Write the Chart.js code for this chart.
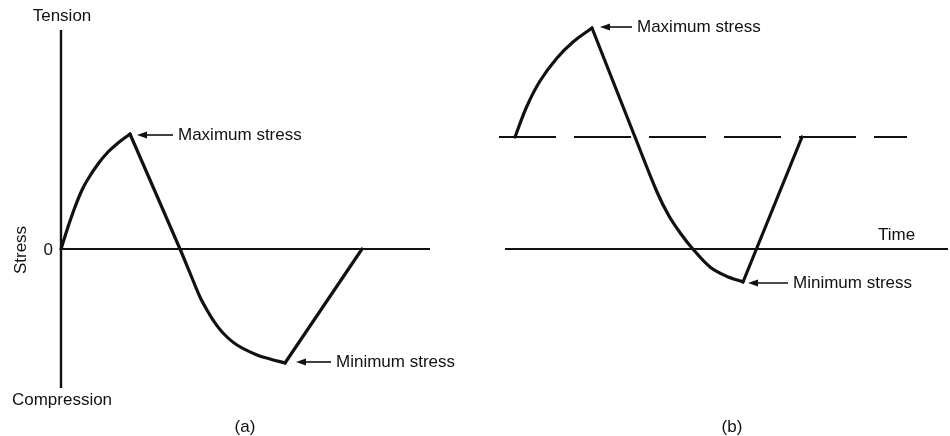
<!DOCTYPE html>
<html>
<head>
<meta charset="utf-8">
<title>Fatigue stress cycles</title>
<script src="https://cdn.jsdelivr.net/npm/chart.js@4.4.1/dist/chart.umd.min.js"></script>
<style>
  html, body { margin: 0; padding: 0; background: #ffffff; }
  #wrap { position: relative; width: 950px; height: 436px; background: #ffffff; }
  #wrap canvas { position: absolute; left: 0; top: 0; }
</style>
</head>
<body>
<div id="wrap">
  <canvas id="cycleA" width="950" height="436"></canvas>
  <canvas id="cycleB" width="950" height="436"></canvas>
</div>
<script>
// (a) Fully reversed cycle: time / stress samples
const cycleA_riseTime   = [0, 0.7, 1.4, 2.1, 2.7, 3.7, 4.7, 5.7, 6.9];
const cycleA_riseStress = [0, 2.2, 4.2, 5.9, 7.0, 8.5, 9.7, 10.6, 11.5];
const cycleA_fallTime   = [6.9, 11.9, 12.9, 13.9, 14.6, 15.2, 16.2, 17.6, 19.6, 20.9, 22.4];
const cycleA_fallStress = [11.5, 0, -2.4, -4.8, -6.1, -7.1, -8.4, -9.6, -10.6, -11.0, -11.4];
const cycleA_backTime   = [22.4, 30.1];
const cycleA_backStress = [-11.4, 0];
const cycleA_stressAxis = [21.9, -13.9];   // Tension ... Compression
const cycleA_timeAxis   = [0, 36.9];

// (b) Fluctuating cycle about a positive mean stress
const cycleB_riseTime   = [1.6, 2.8, 4.1, 5.8, 7.4, 9.3];
const cycleB_riseStress = [11.2, 14.3, 16.8, 19.1, 20.7, 22.1];
const cycleB_fallTime   = [9.3, 13.6, 15.8, 17.0, 18.2, 19.3, 21.1, 22.7, 24.4];
const cycleB_fallStress = [22.1, 11.2, 5.7, 3.3, 1.5, 0.1, -1.8, -2.7, -3.3];
const cycleB_backTime   = [24.4, 30.3];
const cycleB_backStress = [-3.3, 11.2];
const cycleB_meanStress = 11.2;
const cycleB_meanSpan   = [0, 40.8];
const cycleB_timeAxis   = [0.6, 44.9];

const INK = '#111111';
const FONT = '17px "Liberation Sans", Arial, sans-serif';

const pts = (xs, ys) => xs.map((x, i) => ({ x, y: ys[i] }));

function curve(data, tension) {
  return { data, borderColor: INK, borderWidth: 3.2, pointRadius: 0,
           tension: tension, fill: false, clip: false,
           borderCapStyle: 'round', borderJoinStyle: 'round' };
}
function rule(data, width, dash) {
  return { data, borderColor: INK, borderWidth: width, pointRadius: 0, tension: 0,
           fill: false, clip: false, borderDash: dash || [] };
}

// Text labels and "stress" call-out arrows, anchored on the scales
const figureText = {
  id: 'figureText',
  afterDatasetsDraw(chart, args, opts) {
    const { ctx } = chart;
    const xs = chart.scales.x, ys = chart.scales.y;
    ctx.save();
    ctx.fillStyle = INK;
    ctx.strokeStyle = INK;
    ctx.font = FONT;
    ctx.textBaseline = 'middle';
    (opts.labels || []).forEach(l => {
      const px = xs.getPixelForValue(l.x) + (l.dx || 0);
      const py = ys.getPixelForValue(l.y) + (l.dy || 0);
      ctx.save();
      ctx.translate(px, py);
      if (l.rotate) ctx.rotate(l.rotate);
      ctx.textAlign = l.align || 'center';
      ctx.fillText(l.text, 0, 0);
      ctx.restore();
    });
    (opts.arrows || []).forEach(a => {
      const px = xs.getPixelForValue(a.x);
      const py = ys.getPixelForValue(a.y) + (a.dy || 0);
      const tip = px + a.gap, end = px + a.gap + a.len;
      ctx.lineWidth = 1.6;
      ctx.beginPath();
      ctx.moveTo(tip + 6, py);
      ctx.lineTo(end, py);
      ctx.stroke();
      ctx.beginPath();
      ctx.moveTo(tip, py);
      ctx.lineTo(tip + 10, py - 3.6);
      ctx.lineTo(tip + 10, py + 3.6);
      ctx.closePath();
      ctx.fill();
      ctx.textAlign = 'left';
      ctx.fillText(a.text, end + 5, py);
    });
    ctx.restore();
  }
};

function baseOptions(pad, xr, yr, textOpts) {
  return {
    responsive: false,
    animation: false,
    events: [],
    layout: { padding: pad },
    scales: {
      x: { type: 'linear', display: false, min: xr[0], max: xr[1] },
      y: { type: 'linear', display: false, min: yr[0], max: yr[1] }
    },
    plugins: { legend: { display: false }, tooltip: { enabled: false }, figureText: textOpts }
  };
}

const maxA = cycleA_riseStress.length - 1;
const minA = cycleA_fallStress.length - 1;

new Chart(document.getElementById('cycleA'), {
  type: 'line',
  data: {
    datasets: [
      rule(pts([0, 0], cycleA_stressAxis), 2.4),
      rule(pts(cycleA_timeAxis, [0, 0]), 2.2),
      curve(pts(cycleA_riseTime, cycleA_riseStress), 0.4),
      curve(pts(cycleA_fallTime, cycleA_fallStress), 0.35),
      curve(pts(cycleA_backTime, cycleA_backStress), 0)
    ]
  },
  options: baseOptions({ left: 51, right: 509, top: 19, bottom: 37 }, [-1, 38], [-15, 23], {
    labels: [
      { text: 'Tension', x: 0, y: 23.3, dx: 1 },
      { text: 'Compression', x: 0, y: -15.1, dx: 1 },
      { text: '0', x: 0, y: 0, dx: -8, dy: 1, align: 'right' },
      { text: 'Stress', x: 0, y: 0, dx: -40, dy: 1, rotate: -Math.PI / 2 },
      { text: '(a)', x: 18.4, y: -17.8 }
    ],
    arrows: [
      { text: 'Maximum stress', x: cycleA_riseTime[maxA], y: cycleA_riseStress[maxA], gap: 7, len: 36, dy: 1 },
      { text: 'Minimum stress', x: cycleA_fallTime[minA], y: cycleA_fallStress[minA], gap: 11, len: 35, dy: -1 }
    ]
  }),
  plugins: [figureText]
});

const maxB = cycleB_riseStress.length - 1;
const minB = cycleB_fallStress.length - 1;

new Chart(document.getElementById('cycleB'), {
  type: 'line',
  data: {
    datasets: [
      rule(pts(cycleB_meanSpan, [cycleB_meanStress, cycleB_meanStress]), 2, [57, 18]),
      rule(pts(cycleB_timeAxis, [0, 0]), 2.2),
      curve(pts(cycleB_riseTime, cycleB_riseStress), 0.4),
      curve(pts(cycleB_fallTime, cycleB_fallStress), 0.35),
      curve(pts(cycleB_backTime, cycleB_backStress), 0)
    ]
  },
  options: baseOptions({ left: 489, right: 1, top: 9, bottom: 37 }, [-1, 45], [-15, 24], {
    labels: [
      { text: 'Time', x: 37.9, y: 1.4, align: 'left' },
      { text: '(b)', x: 23.3, y: -17.8 }
    ],
    arrows: [
      { text: 'Maximum stress', x: cycleB_riseTime[maxB], y: cycleB_riseStress[maxB], gap: 8, len: 32, dy: -1 },
      { text: 'Minimum stress', x: cycleB_fallTime[minB], y: cycleB_fallStress[minB], gap: 5, len: 40, dy: 1 }
    ]
  }),
  plugins: [figureText]
});
</script>
</body>
</html>
